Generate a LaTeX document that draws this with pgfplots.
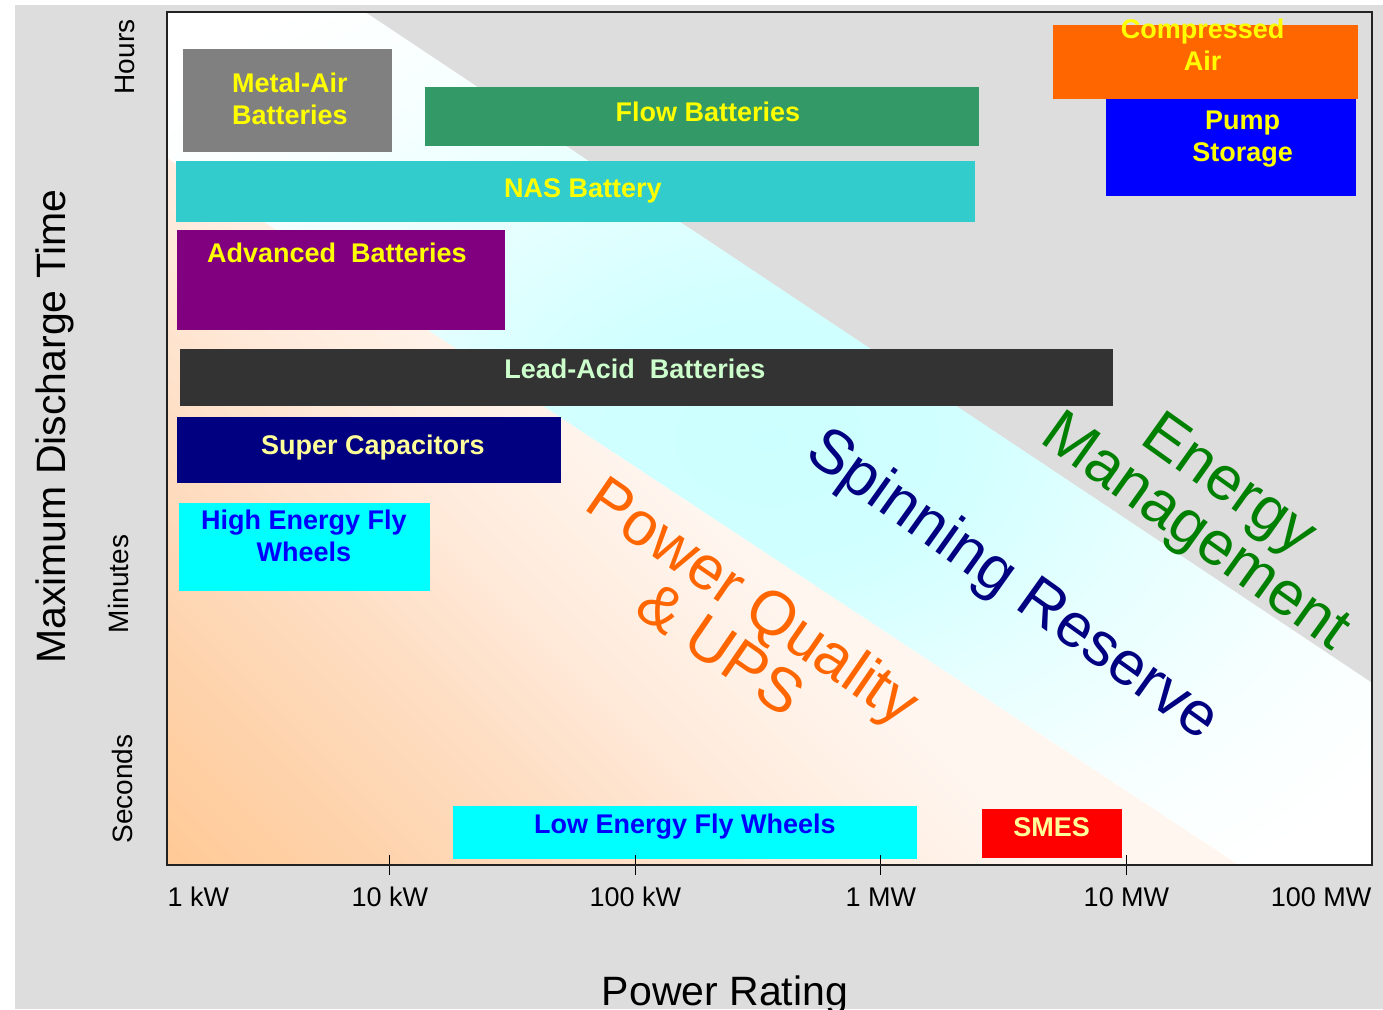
\documentclass[border=0pt]{standalone}
\usepackage{fontspec}
\setmainfont{Liberation Sans}
\usepackage{pgfplots}
\pgfplotsset{compat=1.18}

% panel and region colours
\definecolor{panelgray}{HTML}{DDDDDD}
\definecolor{framecol}{HTML}{222222}
\definecolor{emgray}{HTML}{DDDDDD}
% technology boxes
\definecolor{mairgray}{HTML}{808080}
\definecolor{flowgreen}{HTML}{339966}
\definecolor{nasteal}{HTML}{33CCCC}
\definecolor{advpurple}{HTML}{800080}
\definecolor{leadgray}{HTML}{333333}
\definecolor{capnavy}{HTML}{000080}
\definecolor{flycyan}{HTML}{00FFFF}
\definecolor{smesred}{HTML}{FF0000}
\definecolor{caorange}{HTML}{FF6600}
\definecolor{pumpblue}{HTML}{0000FF}
% label colours
\definecolor{labyellow}{HTML}{FFFF00}
\definecolor{labpale}{HTML}{FFFF99}
\definecolor{labmint}{HTML}{CCFFCC}
\definecolor{labblue}{HTML}{0000FF}
\definecolor{pqtext}{HTML}{FF6600}
\definecolor{srtext}{HTML}{000080}
\definecolor{emtext}{HTML}{008000}

% soft fills for the application regions
\pgfdeclarehorizontalshading{pqfade}{100bp}{%
  rgb(0bp)=(1,0.79,0.59); rgb(14.64bp)=(1,0.79,0.59);
  rgb(30bp)=(0.995,0.86,0.745); rgb(40bp)=(1,0.92,0.86);
  rgb(50bp)=(1,0.965,0.94); rgb(100bp)=(1,0.965,0.94)}
\pgfdeclareradialshading{srfade}{\pgfpoint{0bp}{0bp}}{%
  rgb(0bp)=(0.8,1,1); rgb(8bp)=(0.82,1,1); rgb(16bp)=(0.9,1,1);
  rgb(25bp)=(0.97,1,1); rgb(32bp)=(1,1,1); rgb(50bp)=(1,1,1)}

\tikzset{
  box/.style={draw=none, fill=#1},
  lab/.style={font=\fontsize{13.5}{16}\selectfont\bfseries, align=center, inner sep=0pt},
  big/.style={font=\fontsize{31}{28}\selectfont, align=center, inner sep=0pt},
}

\begin{document}
\begin{tikzpicture}
\path[use as bounding box] (0,0) rectangle (691.5pt,504.5pt);
\fill[white] (0,0) rectangle (691.5pt,504.5pt);
\fill[panelgray] (7.5pt,0) rectangle (691.5pt,502pt);

\begin{axis}[
  at={(83.5pt,72pt)}, anchor=south west,
  scale only axis, width=602.5pt, height=426.5pt,
  xmode=log, xmin=1.236, xmax=1e5, ymin=0, ymax=100,
  axis background/.style={fill=white},
  axis on top, clip=false,
  xminorticks=false,
  xtick pos=bottom,
  xtick={10,100,1000,10000},
  xticklabels={10 kW,100 kW,1 MW,10 MW},
  extra x ticks={1.66,62100},
  extra x tick labels={1 kW,100 MW},
  extra x tick style={tick style={draw=none}},
  ytick=\empty,
  tick align=center, major tick length=10pt,
  tick style={black, line width=0.5pt},
  axis line style={draw=framecol, line width=0.8pt},
  xticklabel style={font=\fontsize{13.5}{16}\selectfont, anchor=base, yshift=-15.5pt},
]

% application regions: energy management, spinning reserve, power quality
\addplot[box=emgray] coordinates {(7.91,100) (1e5,100) (1e5,21.34)} -- cycle;
\addplot[draw=none, shade, shading=srfade] coordinates
  {(1.236,100) (7.91,100) (1e5,21.34) (1e5,0) (28630,0) (1.236,82.88)} -- cycle;
\addplot[draw=none, shade, shading=pqfade, shading angle=45] coordinates
  {(1.236,82.88) (1.236,0) (28630,0)} -- cycle;

% storage technologies: power range (kW) x discharge-time band
\addplot[box=mairgray]  coordinates {(1.44,95.66) (10.2,95.66) (10.2,83.59) (1.44,83.59)} -- cycle;
\addplot[box=flowgreen] coordinates {(13.9,91.21) (2500,91.21) (2500,84.29) (13.9,84.29)} -- cycle;
\addplot[box=nasteal]   coordinates {(1.345,82.53) (2410,82.53) (2410,75.38) (1.345,75.38)} -- cycle;
\addplot[box=advpurple] coordinates {(1.357,74.44) (29.4,74.44) (29.4,62.72) (1.357,62.72)} -- cycle;
\addplot[box=leadgray]  coordinates {(1.396,60.49) (8790,60.49) (8790,53.81) (1.396,53.81)} -- cycle;
\addplot[box=capnavy]   coordinates {(1.357,52.52) (49.7,52.52) (49.7,44.78) (1.357,44.78)} -- cycle;
\addplot[box=flycyan]   coordinates {(1.383,42.44) (14.55,42.44) (14.55,32.12) (1.383,32.12)} -- cycle;
\addplot[box=flycyan]   coordinates {(18.05,6.92) (1400,6.92) (1400,0.70) (18.05,0.70)} -- cycle;
\addplot[box=smesred]   coordinates {(2573,6.57) (9560,6.57) (9560,0.82) (2573,0.82)} -- cycle;
\addplot[box=caorange]  coordinates {(5005,98.48) (87400,98.48) (87400,89.80) (5005,89.80)} -- cycle;
\addplot[box=pumpblue]  coordinates {(8230,89.80) (85750,89.80) (85750,78.43) (8230,78.43)} -- cycle;

% technology labels
\node[lab, text=labyellow] at (axis cs:3.915,89.80) {Metal-Air\\Batteries};
\node[lab, text=labyellow] at (axis cs:197.2,88.28) {Flow Batteries};
\node[lab, text=labyellow] at (axis cs:61.07,79.02) {NAS Battery};
\node[lab, text=labyellow] at (axis cs:6.083,71.75) {Advanced\ \ Batteries};
\node[lab, text=labmint]   at (axis cs:99.45,58.15) {Lead-Acid\ \ Batteries};
\node[lab, text=labpale]   at (axis cs:8.526,48.89) {Super Capacitors};
\node[lab, text=labblue]   at (axis cs:4.465,38.57) {High Energy Fly\\Wheels};
\node[lab, text=labblue]   at (axis cs:158.9,4.46) {Low Energy Fly Wheels};
\node[lab, text=labpale]   at (axis cs:4958,4.45) {SMES};
\node[lab, text=labyellow] at (axis cs:20430,96.13) {Compressed\\Air};
\node[lab, text=labyellow] at (axis cs:29730,85.11) {Pump\\Storage};

% region names
\node[big, text=pqtext, rotate=-34.5] at (axis cs:261.2,28.3) {Power Quality\\\& UPS};
\node[big, text=srtext, rotate=-35.5] at (axis cs:3409,32.6) {Spinning Reserve};
\node[big, text=emtext, rotate=-35.5, font=\fontsize{31}{25.5}\selectfont]
  at (axis cs:22020,41.5) {Energy\\Management};
\end{axis}

% discharge-time scale and axis titles
\node[rotate=90, anchor=base, font=\fontsize{14}{16}\selectfont] at (67.5pt,476pt) {Hours};
\node[rotate=90, anchor=base, font=\fontsize{14}{16}\selectfont] at (64pt,212.5pt) {Minutes};
\node[rotate=90, anchor=base, font=\fontsize{14}{16}\selectfont] at (66pt,110pt) {Seconds};
\node[rotate=90, anchor=base, font=\fontsize{20.5}{24}\selectfont] at (32.5pt,291.25pt) {Maximum Discharge Time};
\node[anchor=base, font=\fontsize{20.5}{24}\selectfont] at (362.5pt,2pt) {Power Rating};
\end{tikzpicture}
\end{document}
